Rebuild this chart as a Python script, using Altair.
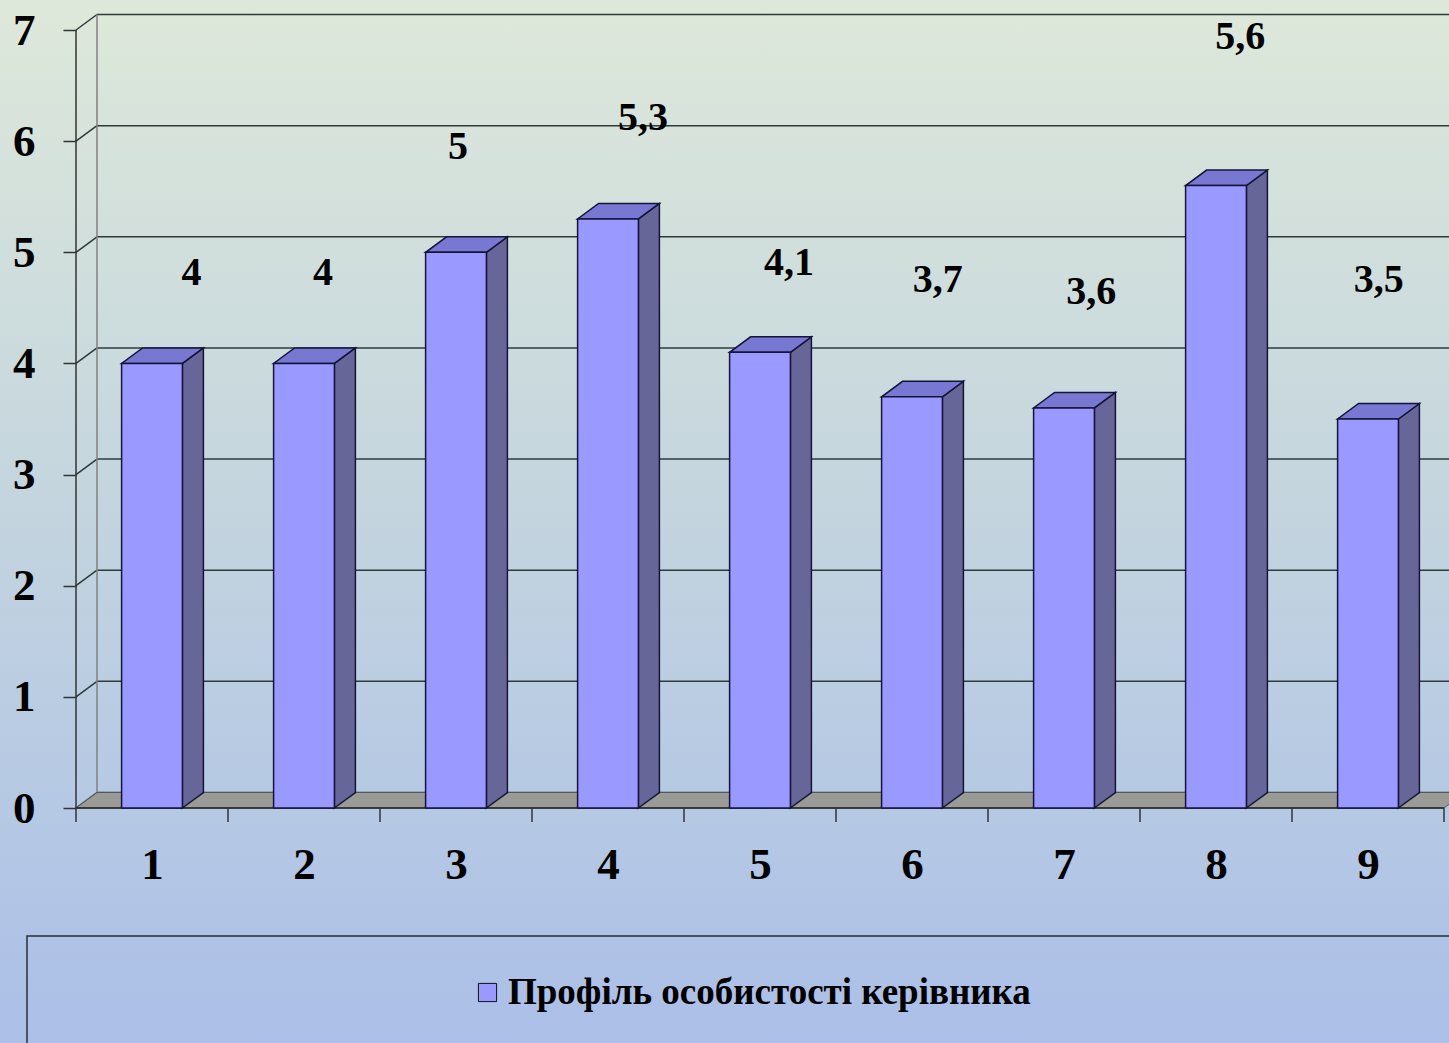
import altair as alt
import numpy as np
import pandas as pd

# ---- data ----
categories = ["1", "2", "3", "4", "5", "6", "7", "8", "9"]
values = [4, 4, 5, 5.3, 4.1, 3.7, 3.6, 5.6, 3.5]
label_text = ["4", "4", "5", "5,3", "4,1", "3,7", "3,6", "5,6", "3,5"]
series_name = "Профіль особистості керівника"
y_ticks = [0, 1, 2, 3, 4, 5, 6, 7]

# label anchor placement (data units), as placed in the original chart
label_y = [4.81, 4.81, 5.95, 6.21, 4.90, 4.75, 4.64, 6.94, 4.75]
label_dx = [0.26, 0.125, 0.013, 0.23, 0.19, 0.17, 0.18, 0.16, 0.07]

# ---- layout ----
W, H = 1449, 1043
PX_X = 152.0          # px per category
PX_Y = 111.14         # px per unit
X0, Y0 = 76, 808      # pixel of x=0 / y=0
PW, PH = W - X0, Y0   # plot area
XD = [0.0, PW / PX_X]
YD = [0.0, PH / PX_Y]
DX = 21 / PX_X        # depth offset
DY = 15.5 / PX_Y
BW = 0.2              # half bar width
n = len(categories)

FONT = "Liberation Serif"
FRONT, SIDE, TOP, EDGE = "#9999FF", "#666699", "#7878D2", "#14143A"
GRID = "#2E3B3B"

xs = alt.Scale(domain=XD, nice=False, zero=False)
ys = alt.Scale(domain=YD, nice=False, zero=False)
centers = np.arange(n) + 0.5

AX = alt.Axis(values=[float(c) for c in centers],
              labelExpr="format(datum.value + 0.5, 'd')",
              orient="bottom", domain=False, ticks=False,
              grid=False, title=None, labelPadding=34, labelFont=FONT,
              labelFontSize=45, labelFontWeight="bold", labelColor="black",
              labelFlush=False, labelOverlap=False, zindex=2)
AY = alt.Axis(values=y_ticks, orient="left", domain=False,
              tickSize=13, tickColor="#333333", tickWidth=1.5, grid=False,
              title=None, labelPadding=28, labelFont=FONT, labelFontSize=45,
              labelFontWeight="bold", labelColor="black", format="d",
              labelFlush=False, labelOverlap=False, zindex=2)


def X(f, **kw):
    return alt.X(f, type="quantitative", scale=xs, axis=AX, **kw)


def Y(f, **kw):
    return alt.Y(f, type="quantitative", scale=ys, axis=AY, **kw)


bars = pd.DataFrame({"cat": categories, "v": values, "c": centers,
                     "xl": centers - BW, "xr": centers + BW, "zero": 0.0,
                     "series": series_name})

side_rows, top_rows = [], []
for i, v in enumerate(values):
    xl, xr = centers[i] - BW, centers[i] + BW
    side_rows += [dict(b=i, x=xr, lo=0.0, hi=v), dict(b=i, x=xr + DX, lo=DY, hi=v + DY)]
    top_rows += [dict(b=i, x=xl, lo=v, hi=v), dict(b=i, x=xl + DX, lo=v, hi=v + DY),
                 dict(b=i, x=xr, lo=v, hi=v + DY), dict(b=i, x=xr + DX, lo=v + DY, hi=v + DY)]
side_df = pd.DataFrame(side_rows)
top_df = pd.DataFrame(top_rows)

floor_df = pd.DataFrame([dict(x=0.0, lo=0.0, hi=0.0), dict(x=DX, lo=0.0, hi=DY),
                         dict(x=float(n), lo=0.0, hi=DY), dict(x=n + DX, lo=DY, hi=DY)])

grid_df = pd.DataFrame({"v": [float(t) for t in y_ticks]})
grid_df["vb"] = grid_df["v"] + DY
grid_df["x0"] = 0.0
grid_df["x1"] = DX
grid_df["x2"] = n + 1.0

ticks_df = pd.DataFrame({"x": np.arange(n + 1, dtype=float), "y": 0.0, "y2": -14 / PX_Y})

labels_df = pd.DataFrame({"x": centers + np.array(label_dx), "y": label_y, "t": label_text})

edges_df = pd.DataFrame({"x": [0.0, DX], "lo": [0.0, DY], "hi": [7.0, 7.0 + DY],
                         "c": ["front", "back"]})

one = pd.DataFrame({"a": [0]})

bg = alt.Chart(one).mark_rect(
    fill=alt.Gradient(gradient="linear", x1=0, x2=0, y1=0, y2=1,
                      stops=[alt.GradientStop(offset=0, color="#DEE8DA"),
                             alt.GradientStop(offset=0.45, color="#C5D6DE"),
                             alt.GradientStop(offset=1, color="#ABBFE8")])
).encode(x=alt.value(-X0), x2=alt.value(PW), y=alt.value(0), y2=alt.value(H))

wall_lines = alt.Chart(grid_df).mark_rule(color=GRID, strokeWidth=1.5).encode(
    x=X("x0"), x2="x1", y=Y("v"), y2="vb")
back_grid = alt.Chart(grid_df).mark_rule(color=GRID, strokeWidth=1.5).encode(
    x=X("x1"), x2="x2", y=Y("vb"))
back_edge = alt.Chart(edges_df).transform_filter("datum.c == 'back'").mark_rule(
    color="#808080", strokeWidth=1.5).encode(x=X("x"), y=Y("lo"), y2="hi")

floor = alt.Chart(floor_df).mark_area(fill="#9A9A96", stroke="#55585A", strokeWidth=1).encode(
    x=X("x"), y=Y("lo"), y2="hi")

front_axis = alt.Chart(edges_df).transform_filter("datum.c == 'front'").mark_rule(
    color="#333333", strokeWidth=1.5).encode(x=X("x"), y=Y("lo"), y2="hi")
base_line = alt.Chart(ticks_df).mark_rule(color="#222222", strokeWidth=1.5).encode(
    x=X("min(x)"), x2="max(x)", y=Y("min(y)"))
x_ticks = alt.Chart(ticks_df).mark_rule(color="#333333", strokeWidth=1.5).encode(
    x=X("x"), y=Y("y"), y2="y2")

side = alt.Chart(side_df).mark_area(fill=SIDE, stroke=EDGE, strokeWidth=1.5).encode(
    x=X("x"), y=Y("lo"), y2="hi", detail="b:N")
top = alt.Chart(top_df).mark_area(fill=TOP, stroke=EDGE, strokeWidth=1.5).encode(
    x=X("x"), y=Y("lo"), y2="hi", detail="b:N")

front = alt.Chart(bars).mark_rect(stroke=EDGE, strokeWidth=1.5).encode(
    x=X("xl"), x2="xr", y=Y("v"), y2="zero",
    color=alt.Color("series:N", scale=alt.Scale(domain=[series_name], range=[FRONT]),
                    legend=alt.Legend(orient="none", legendX=469 - X0, legendY=974, title=None,
                                      symbolType="square", symbolSize=330,
                                      symbolStrokeColor="#111111", symbolStrokeWidth=1,
                                      labelFont=FONT, labelFontSize=37, labelFontWeight="bold",
                                      labelColor="black", labelOffset=2, padding=0,
                                      labelLimit=1000, zindex=3)),
)

labels = alt.Chart(labels_df).mark_text(font=FONT, fontSize=40, fontWeight="bold",
                                         color="black", baseline="middle", align="center").encode(
    x=X("x"), y=Y("y"), text="t:N")

legend_box = alt.Chart(one).mark_rect(fill=None, stroke="#2A2E38", strokeWidth=1.5).encode(
    x=alt.value(27 - X0), x2=alt.value(PW + 20), y=alt.value(936), y2=alt.value(H + 20))

chart = alt.layer(
    bg, wall_lines, back_grid, back_edge, floor, front_axis, base_line, x_ticks,
    side, top, front, labels, legend_box
).properties(
    width=PW, height=PH,
    padding={"left": X0, "top": 0, "right": 0, "bottom": H - Y0},
    autosize=alt.AutoSizeParams(type="none")
).configure_view(stroke=None)

chart.save("out.html", embed_options={"renderer": "svg", "actions": False})
